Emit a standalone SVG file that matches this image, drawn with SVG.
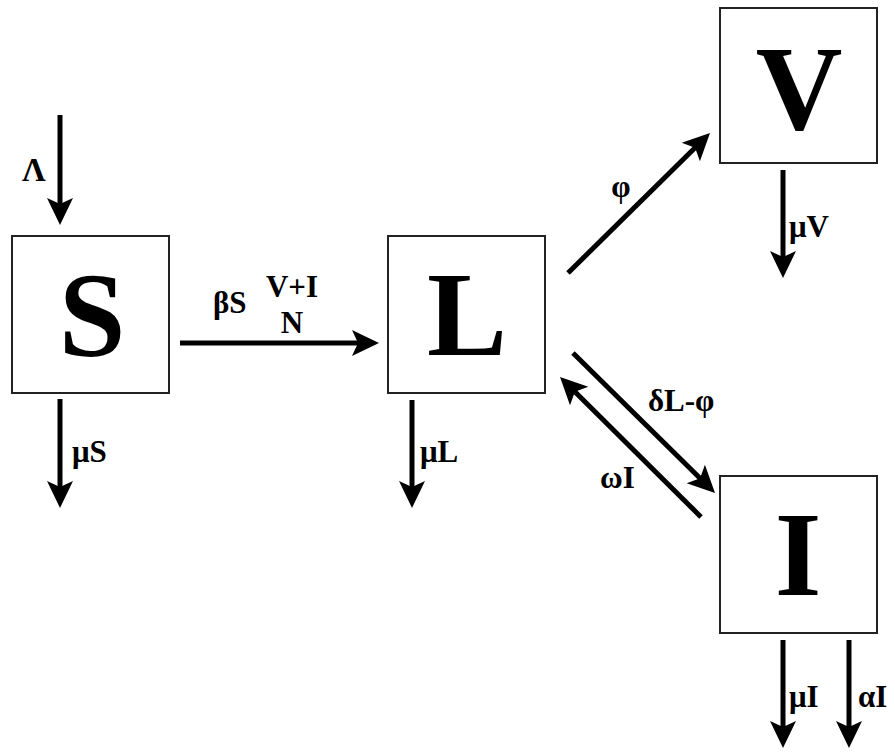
<svg xmlns="http://www.w3.org/2000/svg" width="895" height="753" viewBox="0 0 895 753">
<style>
.box{fill:#fff;stroke:#222;stroke-width:2}
.big{font-family:"Liberation Serif","Times New Roman",serif;font-weight:bold;font-size:120px;text-anchor:middle;fill:#000}
.lbl{font-family:"Liberation Serif","Times New Roman",serif;font-weight:bold;font-size:31px;fill:#000}
.arr{stroke:#000;stroke-width:5;fill:none;marker-end:url(#ah)}
</style>
<defs>
<marker id="ah" markerUnits="userSpaceOnUse" viewBox="-20 -14 32 28" refX="0" refY="0" markerWidth="32" markerHeight="28" orient="auto">
<path d="M10,0 L-17,-13 L-11,0 L-17,13 Z" fill="#000"/>
</marker>
</defs>
<rect width="895" height="753" fill="#fff"/>
<g id="node-S"><rect class="box" x="12" y="236" width="157" height="157"/><text class="big" x="92" y="356">S</text></g>
<g id="node-L"><rect class="box" x="388" y="236" width="157" height="157"/><text class="big" x="467" y="355">L</text></g>
<g id="node-V"><rect class="box" x="720" y="8" width="157" height="155"/><text class="big" x="799" y="129">V</text></g>
<g id="node-I"><rect class="box" x="720" y="476" width="157" height="157"/><text class="big" x="798" y="595">I</text></g>
<g id="connectors">
<line class="arr" x1="60" y1="115" x2="60" y2="215"/>
<line class="arr" x1="60" y1="399" x2="60" y2="498"/>
<line class="arr" x1="180" y1="343" x2="369" y2="343"/>
<line class="arr" x1="412" y1="400" x2="412" y2="498"/>
<line class="arr" x1="568" y1="273" x2="702.9" y2="140"/>
<line class="arr" x1="783" y1="170" x2="783" y2="268"/>
<line class="arr" x1="573" y1="353" x2="707.9" y2="486"/>
<line class="arr" x1="701" y1="517" x2="567.1" y2="384"/>
<line class="arr" x1="783" y1="640" x2="783" y2="738"/>
<line class="arr" x1="849" y1="640" x2="849" y2="738"/>
</g>
<g id="labels">
<text class="lbl" x="22" y="181" style="font-size:33px">Λ</text>
<text class="lbl" x="72" y="462">μS</text>
<text class="lbl" x="213" y="313">βS</text>
<text class="lbl" x="292" y="297" text-anchor="middle">V+I</text>
<text class="lbl" x="292" y="333" text-anchor="middle">N</text>
<text class="lbl" x="420" y="462">μL</text>
<text class="lbl" x="621" y="197" text-anchor="middle">φ</text>
<text class="lbl" x="789" y="237">μV</text>
<text class="lbl" x="648" y="411">δL-φ</text>
<text class="lbl" x="600" y="488">ωI</text>
<text class="lbl" x="789" y="707">μI</text>
<text class="lbl" x="858" y="707">αI</text>
</g>
</svg>
